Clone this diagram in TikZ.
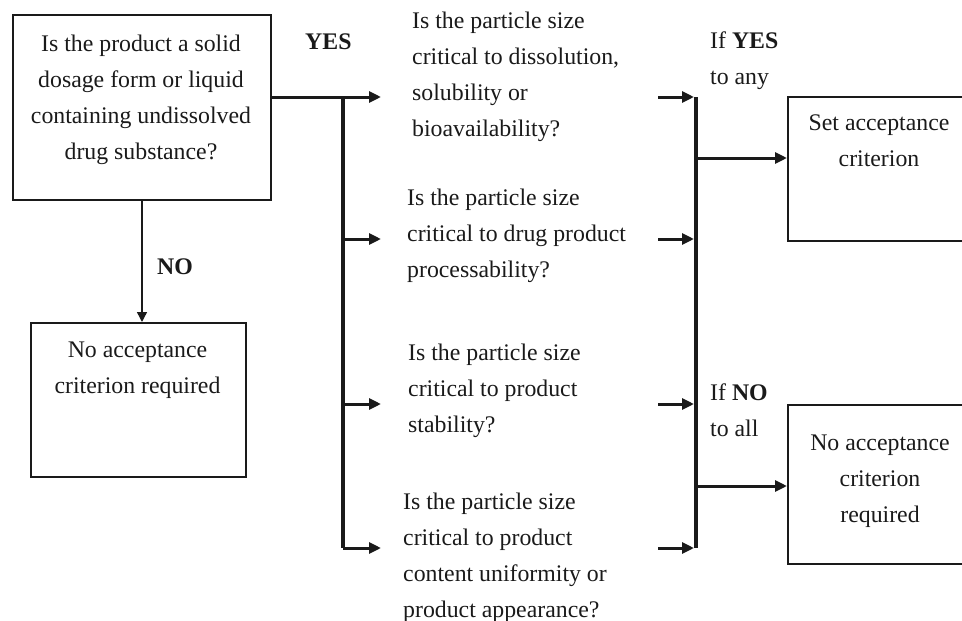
\documentclass[tikz,border=0pt]{standalone}
\usepackage{fontspec}
\setmainfont{Liberation Serif}
\usetikzlibrary{arrows.meta}
\definecolor{ink}{HTML}{1A1A1A}
\tikzset{
  txt/.style={inner sep=0pt, text=ink, font=\fontsize{23.8pt}{36pt}\selectfont},
  qtxt/.style={txt, align=left, anchor=north west},
  ctxt/.style={txt, align=center, anchor=north},
  box/.style={draw=ink, line width=1.9pt, rectangle, inner sep=0pt, anchor=north west},
  thickline/.style={draw=ink, line width=3pt},
  busline/.style={draw=ink, line width=4pt},
  thickarrow/.style={thickline, -{Triangle[length=12pt,width=11pt]}},
  thinarrow/.style={draw=ink, line width=1.4pt, -{Triangle[length=10pt,width=10pt]}}
}
\begin{document}
\begin{tikzpicture}[x=1pt, y=-1pt]
\useasboundingbox (0,0) rectangle (962,621);
\clip (0,0) rectangle (962,621);
% boxes
\node[box, minimum width=258pt, minimum height=185pt] (q0) at (12,14) {};
\node[ctxt] (q0t) at (141,35) {Is the product a solid\\dosage form or liquid\\containing undissolved\\drug substance?};
\node[box, minimum width=215pt, minimum height=154pt] (n0) at (30,322) {};
\node[ctxt] (n0t) at (137.5,342) {No acceptance\\criterion required};
\node[box, minimum width=200pt, minimum height=144pt] (acc) at (787,96) {};
\node[ctxt] (acct) at (879,115) {Set acceptance\\criterion};
\node[box, minimum width=200pt, minimum height=159pt] (nacc) at (787,404) {};
\node[ctxt] (nacct) at (880,435) {No acceptance\\criterion\\required};
% labels
\node[txt, anchor=north west, font=\fontsize{23.8pt}{36pt}\selectfont\bfseries] (yes) at (305,34) {YES};
\node[txt, anchor=north west, font=\fontsize{23.8pt}{36pt}\selectfont\bfseries] (no) at (157,259) {NO};
\node[qtxt] (ifyes) at (710,32) {If \textbf{YES}\\to any};
\node[qtxt] (ifno) at (710,384) {If \textbf{NO}\\to all};
% questions
\node[qtxt] (q1) at (412,12) {Is the particle size\\critical to dissolution,\\solubility or\\bioavailability?};
\node[qtxt] (q2) at (407,189) {Is the particle size\\critical to drug product\\processability?};
\node[qtxt] (q3) at (408,344) {Is the particle size\\critical to product\\stability?};
\node[qtxt] (q4) at (403,493) {Is the particle size\\critical to product\\content uniformity or\\product appearance?};
% left bus coordinates
\coordinate (lb1) at (343,97);
\coordinate (lb2) at (343,239);
\coordinate (lb3) at (343,404);
\coordinate (lb4) at (343,548);
\coordinate (la1) at (381,97);
\coordinate (la2) at (381,239);
\coordinate (la3) at (381,404);
\coordinate (la4) at (381,548);
% right bus coordinates
\coordinate (rs1) at (658,97);
\coordinate (rs2) at (658,239);
\coordinate (rs3) at (658,404);
\coordinate (rs4) at (658,548);
\coordinate (rb1) at (694,97);
\coordinate (rb2) at (694,239);
\coordinate (rb3) at (694,404);
\coordinate (rb4) at (694,548);
\coordinate (rt) at (696,97);
\coordinate (rbt) at (696,548);
\coordinate (ry) at (696,158);
\coordinate (rn) at (696,486);
% connectors
\draw[thinarrow] (q0.south -| 142,0) -- (142,322);
\draw[thickarrow] (q0.east |- lb1) -- (la1);
\draw[busline] (lb1) -- (lb4);
\draw[thickarrow] (lb2) -- (la2);
\draw[thickarrow] (lb3) -- (la3);
\draw[thickarrow] (lb4) -- (la4);
\draw[thickarrow] (rs1) -- (rb1);
\draw[thickarrow] (rs2) -- (rb2);
\draw[thickarrow] (rs3) -- (rb3);
\draw[thickarrow] (rs4) -- (rb4);
\draw[busline] (rt) -- (rbt);
\draw[thickarrow] (ry) -- (acc.west |- ry);
\draw[thickarrow] (rn) -- (nacc.west |- rn);
\end{tikzpicture}
\end{document}
